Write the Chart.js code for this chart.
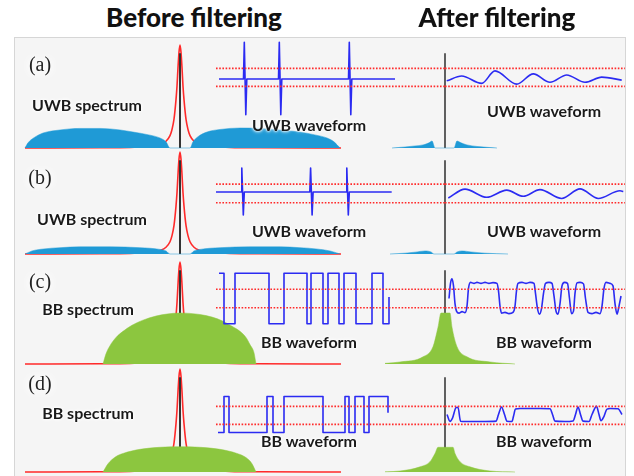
<!DOCTYPE html>
<html><head><meta charset="utf-8">
<script src="https://cdn.jsdelivr.net/npm/chart.js@4/dist/chart.umd.min.js"></script>
<style>
html,body{margin:0;padding:0;background:#fff;}
#stage{position:relative;width:634px;height:476px;overflow:hidden;background:#fff;}
#frame{position:absolute;left:14px;top:37px;width:612px;height:450px;background:#f5f5f5;border:1px solid #d6d6d6;box-sizing:border-box;}
.cv{position:absolute;}
.t{position:absolute;transform:translate(-50%,-50%);white-space:nowrap;line-height:1;color:#1a1a1a;z-index:10;}
.title{font:900 26px Lato,"Open Sans",sans-serif;color:#111;}
.lab{font:700 16px Lato,"Open Sans",sans-serif;text-shadow:0 0 2px #fff,0 0 3px #fff,0 0 4px #fff;}
.pan{font:20px "Liberation Serif","DejaVu Serif",serif;color:#222;text-shadow:0 0 6px #fff,0 0 10px #fff,0 0 14px #fff;}
</style></head>
<body><div id="stage"><div id="frame"></div>
<div class="t title" style="left:194px;top:17px">Before filtering</div>
<div class="t title" style="left:497px;top:17px">After filtering</div>
<div class="t pan" style="left:40px;top:64px">(a)</div>
<div class="t pan" style="left:40px;top:177px">(b)</div>
<div class="t pan" style="left:40px;top:281px">(c)</div>
<div class="t pan" style="left:40px;top:383px">(d)</div>
<div class="t lab" style="left:87px;top:104px">UWB spectrum</div>
<div class="t lab" style="left:92px;top:218px">UWB spectrum</div>
<div class="t lab" style="left:88px;top:308px">BB spectrum</div>
<div class="t lab" style="left:88px;top:412px">BB spectrum</div>
<div class="t lab" style="left:309px;top:124px">UWB waveform</div>
<div class="t lab" style="left:309px;top:230px">UWB waveform</div>
<div class="t lab" style="left:309px;top:341px">BB waveform</div>
<div class="t lab" style="left:309px;top:440px">BB waveform</div>
<div class="t lab" style="left:544px;top:110px">UWB waveform</div>
<div class="t lab" style="left:544px;top:230px">UWB waveform</div>
<div class="t lab" style="left:544px;top:341px">BB waveform</div>
<div class="t lab" style="left:544px;top:440px">BB waveform</div>
</div>
<script>
// ---------- DATA ----------
// Frequency offsets (GHz) from the filter centre, amplitudes normalised to filter peak
const filterF = [-7.75,-4,-2.5,-1.5,-1,-0.7,-0.5,-0.4,-0.3,-0.2,-0.15,-0.1,-0.05,0,0.05,0.1,0.15,0.2,0.3,0.4,0.5,0.7,1,1.5,2.5,4,8.05];
const filterA = [0,0.002,0.006,0.016,0.035,0.066,0.12,0.18,0.28,0.47,0.6,0.78,0.93,1,0.93,0.78,0.6,0.47,0.28,0.18,0.12,0.066,0.035,0.016,0.006,0.002,0];
const carrierLineF = [0,0];
const carrierLineA = [0,0.92];

const uwbA_f = [-7.75,-7.6,-7.3,-6.85,-6,-5,-4,-3,-2.35,-1.5,-1,-0.7,-0.5,0.5,0.65,0.9,1.35,2,3,4,5,6,6.8,7.35,7.7,8];
const uwbA_v = [0,0.05,0.1,0.145,0.175,0.19,0.19,0.175,0.155,0.125,0.097,0.06,0,0,0.06,0.11,0.155,0.18,0.194,0.19,0.175,0.155,0.125,0.097,0.06,0];
const uwbB_f = [-7.75,-7.4,-6.8,-6,-5,-3.5,-2,-1,-0.7,-0.5,0.5,0.7,1,2,3.5,5,6,6.8,7.5,8];
const uwbB_v = [0,0.03,0.05,0.062,0.07,0.07,0.062,0.045,0.03,0,0,0.03,0.045,0.062,0.07,0.07,0.062,0.05,0.03,0];
const bbC_f = [-3.85,-3.7,-3.5,-3.2,-2.85,-2.4,-1.85,-1.2,-0.65,0,1,1.6,2.15,2.6,3,3.3,3.5,3.7,3.8];
const bbC_v = [0,0.1,0.18,0.26,0.32,0.38,0.43,0.47,0.49,0.5,0.485,0.46,0.42,0.37,0.32,0.26,0.19,0.11,0];
const bbD_f = [-3.85,-3.6,-3.2,-2.85,-2,-1,0,1,2,2.85,3.3,3.6,3.8];
const bbD_v = [0,0.08,0.15,0.18,0.22,0.24,0.245,0.24,0.22,0.18,0.14,0.08,0];

const aftA_f = [-2.65,-2,-1.5,-1.1,-0.8,-0.65,-0.5,0.45,0.6,0.8,1.1,1.6,2.6];
const aftA_v = [0,0.01,0.02,0.03,0.05,0.068,0,0,0.068,0.05,0.03,0.015,0];
const aftB_f = [-2.75,-2,-1.5,-1,-0.7,-0.55,0.45,0.6,0.85,1.3,2,3.15];
const aftB_v = [0,0.008,0.018,0.03,0.02,0,0,0.02,0.03,0.02,0.008,0];
const aftC_f = [-3.5,-2.25,-1.1,-0.6,-0.35,-0.2,0.25,0.35,0.6,1.1,2.25,3.5];
const aftC_v = [0,0.02,0.07,0.17,0.36,0.5,0.5,0.36,0.17,0.07,0.02,0];
const aftD_f = [-3.5,-2.25,-1.25,-0.75,-0.5,-0.35,0.4,0.5,0.75,1.25,2.25,3.5];
const aftD_v = [0,0.01,0.05,0.1,0.18,0.24,0.24,0.18,0.1,0.05,0.01,0];

// Waveforms: time (ns), amplitude normalised to pulse / bit level
const waveA_t = [0.2,2.65,2.73,2.88,2.98,6.15,6.23,6.38,6.48,13.15,13.23,13.38,13.48,17.8];
const waveA_v = [0,0,1,-0.97,0,0,1,-0.97,0,0,1,-0.97,0,0];
const waveB_t = [-0.1,2.4,2.48,2.63,2.73,9.28,9.36,9.51,9.61,12.9,12.98,13.13,13.23,17.47];
const waveB_v = [0,0,1,-0.96,0,0,1,-0.96,0,0,1,-0.96,0,0];
const waveC_t = [0.2,0.7,1.8,5.2,6.7,9.0,9.4,10.6,11.1,12.2,12.7,13.9,15.5,16.6,17.2];
const waveC_v = [1,-1,1,-1,1,-1,1,-1,1,-1,1,-1,1,-1,0.06];
const waveD_t = [0.1,0.7,1.2,5.0,5.6,6.7,10.6,12.8,13.2,13.8,14.7,15.2,17.1];
const waveD_v = [-1,1,-1,1,-1,1,-1,1,-1,1,-1,1,0.1];

const aftWaveA_t = [0.17,1.67,3.67,5.0,7.17,8.83,10.5,12.17,14.0,15.67,17.67];
const aftWaveA_v = [-0.05,0.08,-0.12,0.22,-0.14,0.14,-0.09,0.11,-0.09,0.05,-0.03];
const aftWaveB_t = [0.33,2.0,4.17,6.17,7.83,9.5,11.67,13.5,15.33,17.5,17.83];
const aftWaveB_v = [-0.25,0.12,-0.22,0.08,-0.18,0.1,-0.27,0.13,-0.27,0.05,0.02];
const aftWaveC_t = [0.4,0.55,0.7,0.85,1.0,1.15,1.4,1.7,2.0,2.2,2.35,2.55,2.9,3.2,3.6,4.0,4.4,4.8,5.2,5.35,5.5,5.65,6.0,6.4,6.8,7.0,7.15,7.3,7.7,8.1,8.5,8.9,9.05,9.25,9.45,9.65,9.85,10.05,10.4,10.7,10.9,11.1,11.3,11.5,11.7,11.95,12.25,12.45,12.65,12.85,13.0,13.2,13.5,13.85,14.05,14.3,14.7,15.1,15.5,15.7,15.9,16.1,16.5,16.8,17.0,17.2,17.4,17.6];
const aftWaveC_v = [0.0,0.6,0.78,0.5,-0.2,-0.5,-0.58,-0.52,-0.56,-0.3,0.4,0.64,0.6,0.64,0.6,0.64,0.6,0.63,0.6,0.3,-0.3,-0.58,-0.55,-0.6,-0.55,-0.3,0.3,0.6,0.64,0.6,0.64,0.6,0.2,-0.4,-0.62,-0.4,0.2,0.6,0.64,0.6,0.1,-0.5,-0.62,-0.2,0.5,0.64,0.6,0.0,-0.6,-0.5,0.2,0.62,0.64,0.58,0.0,-0.55,-0.6,-0.55,-0.6,-0.3,0.4,0.64,0.6,0.5,-0.2,-0.62,-0.3,0.1];
const aftWaveD_t = [0.2,0.5,0.75,1.1,1.3,1.55,2,3,4,5.1,5.35,5.65,5.95,6.2,6.7,6.85,7.05,7.5,8.5,9.5,10.5,10.75,11.0,12,12.8,13.05,13.3,13.55,13.8,14.4,14.7,15.15,15.4,15.6,15.9,16.2,16.5,17.3,17.7];
const aftWaveD_v = [0.0,-0.38,-0.2,0.38,0.4,-0.37,-0.39,-0.39,-0.39,-0.37,0.0,0.42,0.0,-0.37,-0.39,-0.1,0.3,0.33,0.33,0.33,0.32,0.0,-0.37,-0.39,-0.36,0.0,0.42,0.0,-0.37,-0.39,0.0,0.45,0.0,-0.35,-0.1,0.3,0.33,0.32,0.0];

// Decision thresholds (dotted lines)
const thrA = [0.29,-0.2];
const thrB = [0.33,-0.45];
const thrC = [0.37,-0.37];
const thrD = [0.45,-0.55];

// ---------- DRAWING ----------
const RED='#ff2a2a', BLUE_W='#2b2bf2', UWB='#1f9ad6', BB='#8cc63f', BLK='#333333';
const stage=document.getElementById('stage');
function xy(ts,vs){return ts.map((t,i)=>({x:t,y:vs[i]}));}
function plot(box,xr,yr,datasets){
  const c=document.createElement('canvas');
  c.width=box[2];c.height=box[3];c.className='cv';
  c.style.left=box[0]+'px';c.style.top=box[1]+'px';
  c.style.width=box[2]+'px';c.style.height=box[3]+'px';
  stage.insertBefore(c, stage.querySelector('.t'));
  new Chart(c,{type:'line',data:{datasets},options:{
    responsive:false,animation:false,devicePixelRatio:1,events:[],
    layout:{padding:0},
    plugins:{legend:{display:false},tooltip:{enabled:false}},
    scales:{x:{type:'linear',display:false,min:xr[0],max:xr[1]},
            y:{type:'linear',display:false,min:yr[0],max:yr[1]}},
    elements:{point:{radius:0},line:{borderJoinStyle:'round',borderCapStyle:'butt'}}
  }});
}
function fillSet(f,v,col){return {data:xy(f,v),fill:'origin',backgroundColor:col,borderColor:col,borderWidth:0.5,cubicInterpolationMode:'monotone',clip:false};}
function lineSet(t,v,col,w,extra){return Object.assign({data:xy(t,v),fill:false,borderColor:col,borderWidth:w,clip:false},extra||{});}
function thrSets(thr,t0,t1){return thr.map(a=>lineSet([t0,t1],[a,a],RED,1.6,{borderDash:[1.6,1.6]}));}

const rows=[
 {base:148,H:103,wc:79,ws:37,sf:uwbA_f,sv:uwbA_v,af:aftA_f,av:aftA_v,col:UWB,wt:waveA_t,wv:waveA_v,st:false,awt:aftWaveA_t,awv:aftWaveA_v,thr:thrA},
 {base:254,H:102,wc:192,ws:24,sf:uwbB_f,sv:uwbB_v,af:aftB_f,av:aftB_v,col:UWB,wt:waveB_t,wv:waveB_v,st:false,awt:aftWaveB_t,awv:aftWaveB_v,thr:thrB},
 {base:364,H:102,wc:298.5,ws:25.5,sf:bbC_f,sv:bbC_v,af:aftC_f,av:aftC_v,col:BB,wt:waveC_t,wv:waveC_v,st:true,awt:aftWaveC_t,awv:aftWaveC_v,thr:thrC},
 {base:472,H:103,wc:414,ws:18,sf:bbD_f,sv:bbD_v,af:aftD_f,av:aftD_v,col:BB,wt:waveD_t,wv:waveD_v,st:true,awt:aftWaveD_t,awv:aftWaveD_v,thr:thrD}
];
const PXF=20, PXT=10;
rows.forEach(r=>{
  const top=r.base-r.H-8, bot=Math.min(r.base+5,476), h=bot-top;
  const yr=[-(bot-r.base)/r.H,(r.base-top)/r.H];
  // before-filtering spectrum (centre at x=180)
  plot([16,top,334,h],[(16-180)/PXF,(350-180)/PXF],yr,[
    fillSet(r.sf,r.sv,r.col),
    lineSet(carrierLineF,carrierLineA,BLK,2),
    lineSet(filterF,filterA,RED,1.6,{cubicInterpolationMode:'monotone'})
  ]);
  // after-filtering spectrum (centre at x=445)
  plot([385,top,145,h],[(385-445)/PXF,(530-445)/PXF],yr,[
    fillSet(r.af,r.av,r.col),
    lineSet(carrierLineF,carrierLineA,'#3a3a3a',1.6)
  ]);
  // waveforms
  const wt=r.wc-1.25*r.ws, wh=2.5*r.ws;
  plot([205,wt,240,wh],[(205-217)/PXT,(445-217)/PXT],[-1.25,1.25],[
    ...thrSets(r.thr,-0.1,22.8),
    lineSet(r.wt,r.wv,BLUE_W,1.6,r.st?{stepped:'before'}:{})
  ]);
  plot([445,wt,185,wh],[0,(630-445)/PXT],[-1.25,1.25],[
    ...thrSets(r.thr,0,18),
    lineSet(r.awt,r.awv,BLUE_W,1.6,{cubicInterpolationMode:'monotone'})
  ]);
});
</script>
</body></html>
